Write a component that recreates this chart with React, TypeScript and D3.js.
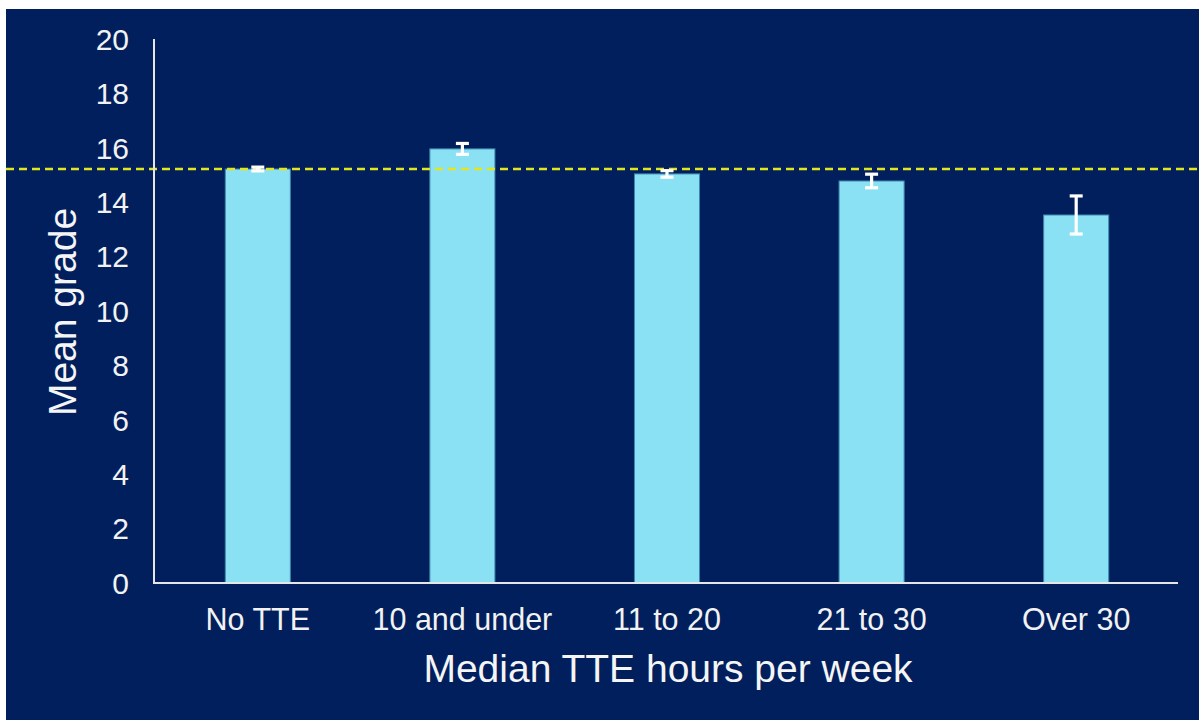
import * as d3 from "d3";
import { useEffect, useRef } from "react";

const categories = ["No TTE", "10 and under", "11 to 20", "21 to 30", "Over 30"];
const meanGrades = [15.22, 15.96, 15.04, 14.78, 13.53];
const errors = [0.07, 0.2, 0.12, 0.25, 0.7];
const yTicks = [0, 2, 4, 6, 8, 10, 12, 14, 16, 18, 20];
const referenceGrade = 15.22;

function drawChart(svgEl: SVGSVGElement) {
    const width = 1199;
    const height = 720;
    const font = "'Liberation Sans', Arial, sans-serif";
    const svg = d3.select(svgEl);
    svg.selectAll("*").remove();

    svg.append("rect").attr("width", width).attr("height", height).attr("fill", "#ffffff");
    svg.append("rect")
        .attr("x", 6).attr("y", 9)
        .attr("width", width - 6).attr("height", height - 9)
        .attr("fill", "#001f5c");

    const x = d3.scaleBand<string>()
        .domain(categories)
        .range([155.5, 1178.5])
        .paddingInner(0.682)
        .paddingOuter(0.341);
    const y = d3.scaleLinear().domain([0, 20]).range([583, 39]);

    // bars
    svg.selectAll("rect.bar")
        .data(categories)
        .enter()
        .append("rect")
        .attr("class", "bar")
        .attr("x", d => x(d)!)
        .attr("y", (d, i) => y(meanGrades[i]))
        .attr("width", x.bandwidth())
        .attr("height", (d, i) => y(0) - y(meanGrades[i]))
        .attr("fill", "#8ae1f3")
        .attr("stroke", "#3f86ad")
        .attr("stroke-width", 1);

    // dashed reference line
    svg.append("line")
        .attr("x1", 6).attr("x2", width)
        .attr("y1", y(referenceGrade)).attr("y2", y(referenceGrade))
        .attr("stroke", "#e3e61c")
        .attr("stroke-width", 2.5)
        .attr("stroke-dasharray", "8 5");

    // error bars
    const eb = svg.append("g").attr("stroke", "#ffffff").attr("stroke-width", 3.2);
    categories.forEach((c, i) => {
        const cx = x(c)! + x.bandwidth() / 2;
        const top = y(meanGrades[i] + errors[i]);
        const bot = y(meanGrades[i] - errors[i]);
        eb.append("line").attr("x1", cx).attr("x2", cx).attr("y1", top).attr("y2", bot);
        eb.append("line").attr("x1", cx - 6.5).attr("x2", cx + 6.5).attr("y1", top).attr("y2", top);
        eb.append("line").attr("x1", cx - 6.5).attr("x2", cx + 6.5).attr("y1", bot).attr("y2", bot);
    });

    // axes lines
    svg.append("line")
        .attr("x1", 154).attr("x2", 154)
        .attr("y1", y(20)).attr("y2", y(0))
        .attr("stroke", "#e6e6e6").attr("stroke-width", 2);
    svg.append("line")
        .attr("x1", 153).attr("x2", 1178)
        .attr("y1", y(0)).attr("y2", y(0))
        .attr("stroke", "#e6e6e6").attr("stroke-width", 2);

    // y tick labels
    svg.selectAll("text.ytick")
        .data(yTicks)
        .enter()
        .append("text")
        .attr("class", "ytick")
        .attr("x", 129)
        .attr("y", d => y(d))
        .attr("dy", "0.36em")
        .attr("text-anchor", "end")
        .attr("fill", "#f2f2f2")
        .style("font-family", font)
        .style("font-size", "30px")
        .text(d => d);

    // x tick labels
    svg.selectAll("text.xtick")
        .data(categories)
        .enter()
        .append("text")
        .attr("class", "xtick")
        .attr("x", d => x(d)! + x.bandwidth() / 2)
        .attr("y", 630)
        .attr("text-anchor", "middle")
        .attr("fill", "#f2f2f2")
        .style("font-family", font)
        .style("font-size", "30.5px")
        .text(d => d);

    // axis titles
    svg.append("text")
        .attr("x", 668)
        .attr("y", 682)
        .attr("text-anchor", "middle")
        .attr("fill", "#f5f5f5")
        .style("font-family", font)
        .style("font-size", "39px")
        .text("Median TTE hours per week");

    svg.append("text")
        .attr("transform", "translate(76,312) rotate(-90)")
        .attr("text-anchor", "middle")
        .attr("fill", "#f5f5f5")
        .style("font-family", font)
        .style("font-size", "39px")
        .text("Mean grade");
}

export default function App() {
    const svgRef = useRef<SVGSVGElement>(null);
    useEffect(() => {
        if (svgRef.current) drawChart(svgRef.current);
    }, []);
    return (
        <svg
            ref={svgRef}
            width={1199}
            height={720}
            style={{ position: "fixed", left: 0, top: 0, display: "block" }}
        />
    );
}
